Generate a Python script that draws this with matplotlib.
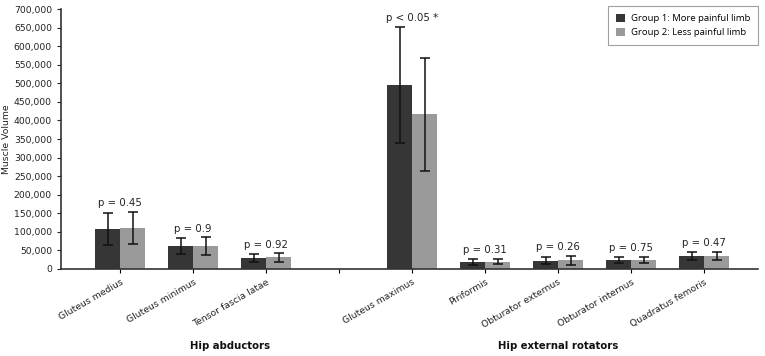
import matplotlib
matplotlib.use("Agg")
import matplotlib.pyplot as plt
import numpy as np
from matplotlib.patches import Patch
from matplotlib.ticker import FuncFormatter

muscles = ["Gluteus medius", "Gluteus minimus", "Tensor fascia latae", "",
           "Gluteus maximus", "Piriformis", "Obturator externus",
           "Obturator internus", "Quadratus femoris"]
group1_mean = [108000, 62000, 30000, None, 495000, 20000, 22500, 24000, 35000]
group1_sd = [44000, 22000, 10000, None, 157000, 8000, 10000, 9000, 12000]
group2_mean = [110000, 62000, 31000, None, 417000, 20000, 23500, 24000, 34500]
group2_sd = [44000, 24000, 12000, None, 152000, 7000, 12000, 9000, 11000]
p_labels = ["p = 0.45", "p = 0.9", "p = 0.92", "", "p < 0.05 *",
            "p = 0.31", "p = 0.26", "p = 0.75", "p = 0.47"]
group_names = ["Hip abductors", "Hip external rotators"]
group_centers = [1.5, 6]
series_names = ["Group 1: More painful limb", "Group 2: Less painful limb"]

c1 = "#363636"
c2 = "#9a9a9a"
fs = 6.7

fig = plt.figure(figsize=(7.65, 3.56), dpi=100)
ax = fig.add_axes([0.0797, 0.2444, 0.991 - 0.0797, 0.9747 - 0.2444])

w = 0.345
x = np.arange(len(muscles))
for i in range(len(muscles)):
    if group1_mean[i] is None:
        continue
    ax.bar(x[i] - w / 2, group1_mean[i], w, color=c1, zorder=2)
    ax.bar(x[i] + w / 2, group2_mean[i], w, color=c2, zorder=2)
    ax.errorbar([x[i] - w / 2, x[i] + w / 2], [group1_mean[i], group2_mean[i]],
                yerr=[group1_sd[i], group2_sd[i]], fmt="none", ecolor="#111111",
                elinewidth=1.1, capsize=3.5, capthick=1.1, zorder=3)
    top = max(group1_mean[i] + group1_sd[i], group2_mean[i] + group2_sd[i])
    ax.text(x[i], top + 9000, p_labels[i], ha="center", va="bottom",
            fontsize=fs + 0.6, color="#222222")

ax.set_xlim(-0.81, 8.74)
ax.set_ylim(0, 700000)
ax.set_yticks(np.arange(0, 700001, 50000))
ax.yaxis.set_major_formatter(FuncFormatter(lambda v, p: f"{int(v):,}"))
ax.set_xticks(x)
ax.set_xticklabels(muscles, rotation=30, ha="right", rotation_mode="anchor",
                   fontsize=fs, color="#222222")
ax.tick_params(axis="y", labelsize=fs, colors="#222222", length=3, width=0.8)
ax.tick_params(axis="x", length=3, width=0.8, pad=3)
for s in ["top", "right"]:
    ax.spines[s].set_visible(False)
for s in ["left", "bottom"]:
    ax.spines[s].set_color("#333333")
    ax.spines[s].set_linewidth(1.2)
ax.set_ylabel("Muscle Volume", fontsize=fs, color="#222222", labelpad=1)
ax.yaxis.set_label_coords(-0.072, 0.5)

for name, cx in zip(group_names, group_centers):
    ax.text(cx, -0.295, name, transform=ax.get_xaxis_transform(),
            ha="center", va="center", fontsize=fs + 0.6, fontweight="bold",
            color="#111111")

handles = [Patch(facecolor=c1, edgecolor="none"), Patch(facecolor=c2, edgecolor="none")]
leg = ax.legend(handles, series_names, loc="upper right",
                bbox_to_anchor=(1.0, 1.012), frameon=True, fancybox=False,
                prop={"family": "Open Sans", "size": 6.8},
                handlelength=1.0, handleheight=0.9, handletextpad=0.6,
                borderpad=0.85, labelspacing=0.5, borderaxespad=0.0)
leg.get_frame().set_edgecolor("#888888")
leg.get_frame().set_linewidth(0.8)

fig.savefig("out.png", dpi=100)
